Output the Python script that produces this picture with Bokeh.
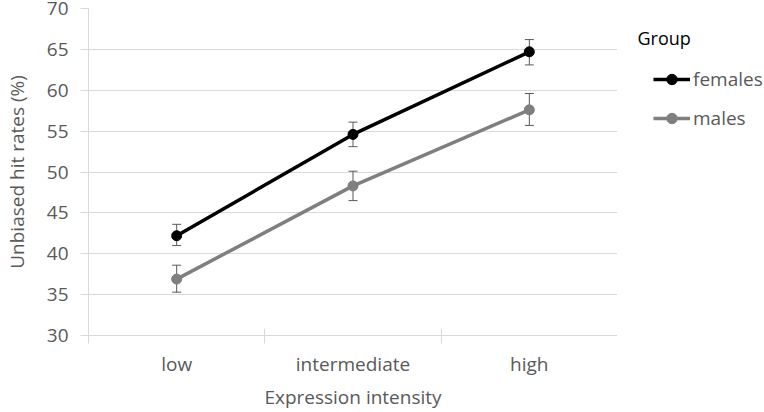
from bokeh.plotting import figure
from bokeh.layouts import row
from bokeh.models import (ColumnDataSource, Whisker, TeeHead, FixedTicker, Range1d,
                          Legend, LegendItem, Label)
from bokeh.embed import file_html
from bokeh.resources import INLINE

categories = ["low", "intermediate", "high"]
females = [42.2, 54.6, 64.7]
females_lo = [41.0, 53.1, 63.1]
females_hi = [43.6, 56.1, 66.2]
males = [36.9, 48.3, 57.6]
males_lo = [35.3, 46.5, 55.7]
males_hi = [38.6, 50.1, 59.6]
y_ticks = [30, 35, 40, 45, 50, 55, 60, 65, 70]
groups = ["females", "males"]
group_colors = ["black", "#7f7f7f"]

FONT = "Open Sans"
FS = "19px"
TXT = "#595959"
GRID = "#d9d9d9"
H, TOP, BOTTOM = 412, 8, 77

xpos = [i + 0.5 for i in range(len(categories))]
bounds = list(range(len(categories) + 1))

src_f = ColumnDataSource(dict(x=xpos, y=females, lo=females_lo, hi=females_hi))
src_m = ColumnDataSource(dict(x=xpos, y=males, lo=males_lo, hi=males_hi))

p = figure(width=617, height=H, output_backend="svg", toolbar_location=None,
           x_range=Range1d(bounds[0], bounds[-1]), y_range=Range1d(y_ticks[0], y_ticks[-1]),
           min_border_left=88, min_border_right=0, min_border_top=TOP, min_border_bottom=BOTTOM)
p.outline_line_color = None
p.background_fill_color = "white"
p.border_fill_color = "white"

p.xgrid.visible = False
p.ygrid.grid_line_color = GRID
p.ygrid.grid_line_width = 1

# y axis
p.yaxis.ticker = FixedTicker(ticks=y_ticks)
p.yaxis.axis_line_color = GRID
p.yaxis.major_tick_line_color = GRID
p.yaxis.major_tick_out = 8
p.yaxis.major_tick_in = 0
p.yaxis.minor_tick_line_color = None
p.yaxis.major_label_standoff = 12
p.yaxis.major_label_text_font = FONT
p.yaxis.major_label_text_font_size = FS
p.yaxis.major_label_text_color = TXT
p.yaxis.axis_label = "Unbiased hit rates (%)"
p.yaxis.axis_label_text_font = FONT
p.yaxis.axis_label_text_font_size = FS
p.yaxis.axis_label_text_font_style = "normal"
p.yaxis.axis_label_text_color = TXT
p.yaxis.axis_label_standoff = 14

# x axis
p.xaxis.ticker = FixedTicker(ticks=xpos, minor_ticks=bounds)
p.xaxis.major_label_overrides = {x: c for x, c in zip(xpos, categories)}
p.xaxis.axis_line_color = GRID
p.xaxis.major_tick_line_color = None
p.xaxis.major_tick_out = 0
p.xaxis.major_tick_in = 0
p.xaxis.minor_tick_line_color = GRID
p.xaxis.minor_tick_in = 7
p.xaxis.minor_tick_out = 8
p.xaxis.major_label_standoff = 7
p.xaxis.major_label_text_font = FONT
p.xaxis.major_label_text_font_size = FS
p.xaxis.major_label_text_color = TXT
p.xaxis.axis_label = "Expression intensity"
p.xaxis.axis_label_text_font = FONT
p.xaxis.axis_label_text_font_size = FS
p.xaxis.axis_label_text_font_style = "normal"
p.xaxis.axis_label_text_color = TXT
p.xaxis.axis_label_standoff = 4

# error bars
for src in (src_f, src_m):
    w = Whisker(base="x", upper="hi", lower="lo", source=src, line_color=TXT, line_width=1,
                upper_head=TeeHead(size=9, line_color=TXT, line_width=1),
                lower_head=TeeHead(size=9, line_color=TXT, line_width=1))
    p.add_layout(w)

for src, col in zip((src_f, src_m), group_colors):
    p.line("x", "y", source=src, line_color=col, line_width=3.5)
    p.scatter("x", "y", source=src, size=10, fill_color=col, line_color=col)

# legend panel (separate figure so the legend is not clipped by the plot frame)
QW = 764 - 617
FH = H - TOP - BOTTOM
q = figure(width=QW, height=H, output_backend="svg", toolbar_location=None,
           x_range=Range1d(0, QW), y_range=Range1d(0, FH),
           x_axis_location=None, y_axis_location=None,
           min_border_left=0, min_border_right=0, min_border_top=TOP, min_border_bottom=BOTTOM)
q.outline_line_color = None
q.grid.visible = False
q.background_fill_color = "white"
q.border_fill_color = "white"

nan = float("nan")
items = []
for name, col in zip(groups, group_colors):
    rl = q.line([nan], [nan], line_color=col, line_width=3.5)
    rs = q.scatter([nan], [nan], size=10, fill_color=col, line_color=col)
    items.append(LegendItem(label=name, renderers=[rl, rs]))

legend = Legend(items=items, location=(36, 204), orientation="vertical",
                glyph_width=37, glyph_height=26, label_height=26, spacing=13,
                label_standoff=3, padding=0, margin=0,
                border_line_color=None, background_fill_alpha=0,
                label_text_font=FONT, label_text_font_size=FS, label_text_color=TXT)
q.add_layout(legend, "center")
q.add_layout(Label(x=20, y=298, text="Group", text_font=FONT, text_font_size="18px",
                   text_color="black", text_baseline="middle", text_align="left"))

open("out.html", "w").write(file_html(row(p, q), INLINE))
